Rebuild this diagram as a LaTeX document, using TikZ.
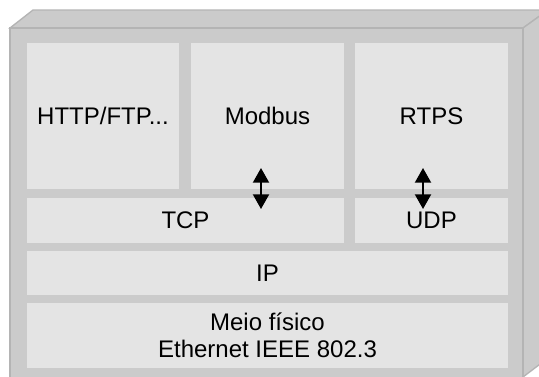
\documentclass[tikz,border=0pt]{standalone}
\usepackage{fontspec}
\setmainfont{Liberation Sans}
\usetikzlibrary{arrows.meta}
\definecolor{facegray}{HTML}{CBCBCB}
\definecolor{edgegray}{HTML}{B4B4B4}
\definecolor{boxgray}{HTML}{E4E4E4}
\begin{document}
\begin{tikzpicture}[x=0.75pt,y=-0.75pt]
\useasboundingbox (0,0) rectangle (539,376);
\clip (0,0) rectangle (539,376);
\fill[white] (0,0) rectangle (539,376);
\filldraw[fill=facegray, draw=edgegray, line width=1pt] (10,28) -- (33,10) -- (548,10) -- (523,28) -- cycle;
\filldraw[fill=facegray, draw=edgegray, line width=1pt] (523,28) -- (548,10) -- (548,358) -- (523,377) -- cycle;
\filldraw[fill=facegray, draw=edgegray, line width=1pt] (10,28) rectangle (523,380);
\node[fill=boxgray, inner sep=0, outer sep=0, minimum width=114pt, minimum height=109.5pt, font=\fontsize{18pt}{20.25pt}\selectfont] (http) at (103,116) {HTTP/FTP...};
\node[fill=boxgray, inner sep=0, outer sep=0, minimum width=114.75pt, minimum height=109.5pt, font=\fontsize{18pt}{20.25pt}\selectfont] (modbus) at (267.5,116) {Modbus};
\node[fill=boxgray, inner sep=0, outer sep=0, minimum width=114.75pt, minimum height=109.5pt, font=\fontsize{18pt}{20.25pt}\selectfont] (rtps) at (431.5,116) {RTPS};
\node[fill=boxgray, inner sep=0, outer sep=0, minimum width=237.75pt, minimum height=33.75pt, font=\fontsize{18pt}{20.25pt}\selectfont] (tcp) at (185.5,220.5) {TCP};
\node[fill=boxgray, inner sep=0, outer sep=0, minimum width=114.75pt, minimum height=33.75pt, font=\fontsize{18pt}{20.25pt}\selectfont] (udp) at (431.5,220.5) {UDP};
\node[fill=boxgray, inner sep=0, outer sep=0, minimum width=360.75pt, minimum height=33pt, font=\fontsize{18pt}{20.25pt}\selectfont] (ip) at (267.5,273) {IP};
\node[fill=boxgray, inner sep=0, outer sep=0, minimum width=360.75pt, minimum height=48.75pt, align=center, font=\fontsize{18pt}{20.25pt}\selectfont] (meio) at (267.5,335.5) {Meio físico\\Ethernet IEEE 802.3};
\coordinate (mb0) at (261,168);
\coordinate (mb1) at (261,209);
\coordinate (rt0) at (423,168);
\coordinate (rt1) at (423,209);
\draw[line width=1.5pt, {Triangle[width=12pt,length=11pt]}-{Triangle[width=12pt,length=11pt]}] (mb0) -- (mb1);
\draw[line width=1.5pt, {Triangle[width=12pt,length=11pt]}-{Triangle[width=12pt,length=11pt]}] (rt0) -- (rt1);
\end{tikzpicture}
\end{document}
